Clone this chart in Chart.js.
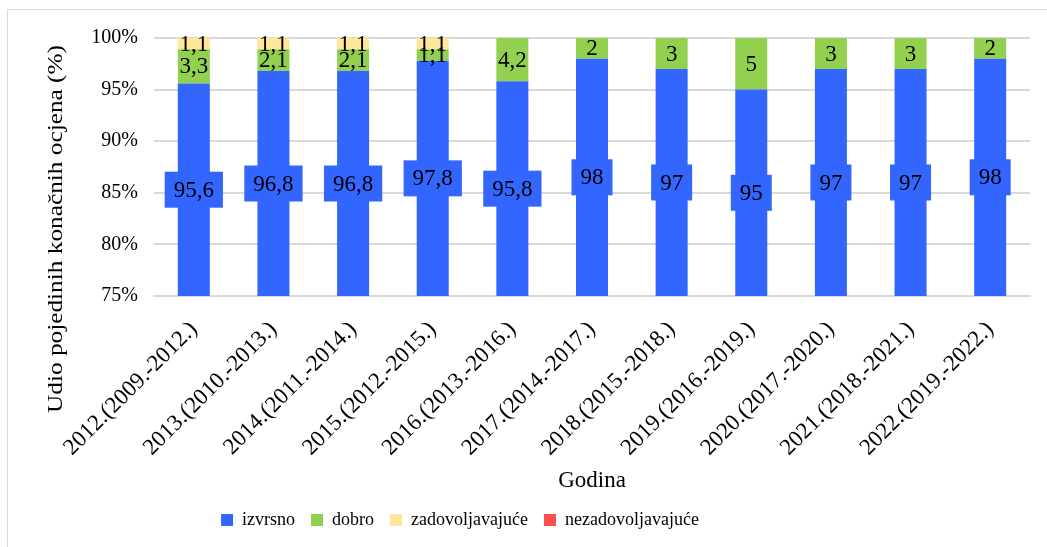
<!DOCTYPE html>
<html>
<head>
<meta charset="utf-8">
<script src="https://cdn.jsdelivr.net/npm/chart.js@4.4.0/dist/chart.umd.min.js"></script>
<style>
html, body { margin: 0; padding: 0; background: #fff; overflow: hidden; }
#okvir { position: absolute; left: 7px; top: 9px; width: 1100px; height: 600px; border: 1px solid #d9d9d9; }
#myChart { position: absolute; left: 0; top: 0; }
</style>
</head>
<body>
<div id="okvir"></div>
<canvas id="myChart" width="1047" height="547"></canvas>
<script>
// podaci
var godine = ['2012.(2009.-2012.)', '2013.(2010.-2013.)', '2014.(2011.-2014.)', '2015.(2012.-2015.)',
    '2016.(2013.-2016.)', '2017.(2014.-2017.)', '2018.(2015.-2018.)', '2019.(2016.-2019.)',
    '2020.(2017.-2020.)', '2021.(2018.-2021.)', '2022.(2019.-2022.)'];
var izvrsno = [95.6, 96.8, 96.8, 97.8, 95.8, 98, 97, 95, 97, 97, 98];
var dobro = [3.3, 2.1, 2.1, 1.1, 4.2, 2, 3, 5, 3, 3, 2];
var zadovoljavajuce = [1.1, 1.1, 1.1, 1.1, 0, 0, 0, 0, 0, 0, 0];
var nezadovoljavajuce = [0, 0, 0, 0, 0, 0, 0, 0, 0, 0, 0];
var yTicks = [75, 80, 85, 90, 95, 100];
var yNaslov = 'Udio pojedinih konačnih ocjena (%)';

var boje = ['#3366ff', '#92d050', '#ffe699', '#ff5050'];
var serif = '"Liberation Serif", "Times New Roman", serif';

// oznake vrijednosti (nema datalabels plugina)
var labelPlugin = {
    id: 'labelPlugin',
    // legenda je u originalu malo lijevo od sredine
    afterLayout: function(chart) {
        chart.legend.left -= 55;
        chart.legend.right -= 55;
    },
    afterDatasetsDraw: function(chart) {
        var ctx = chart.ctx;
        var area = chart.chartArea;
        ctx.save();
        ctx.textAlign = 'center';
        ctx.textBaseline = 'middle';
        ctx.font = '23px ' + serif;
        chart.data.datasets.forEach(function(ds, i) {
            var meta = chart.getDatasetMeta(i);
            meta.data.forEach(function(bar, j) {
                var v = ds.data[j];
                if (!v) return;
                var top = Math.max(Math.min(bar.y, bar.base), area.top);
                var bottom = Math.min(Math.max(bar.y, bar.base), area.bottom);
                var cy = (top + bottom) / 2;
                var txt = String(v).replace('.', ',');
                if (i === 0) {
                    var w = ctx.measureText(txt).width + 18;
                    var h = 36;
                    ctx.fillStyle = boje[0];
                    ctx.fillRect(bar.x - w / 2, cy - h / 2, w, h);
                }
                ctx.fillStyle = '#000';
                ctx.fillText(txt, bar.x, cy + 1);
            });
        });
        ctx.restore();
    },
    // naslov y osi - razvučen kao u originalu
    afterDraw: function(chart) {
        var ctx = chart.ctx;
        var area = chart.chartArea;
        ctx.save();
        ctx.font = '22px ' + serif;
        ctx.fillStyle = '#000';
        ctx.textAlign = 'center';
        ctx.textBaseline = 'middle';
        var sx = 368 / ctx.measureText(yNaslov).width;
        ctx.translate(area.left - 98, area.top + 191);
        ctx.rotate(-Math.PI / 2);
        ctx.scale(sx, 1);
        ctx.fillText(yNaslov, 0, 0);
        ctx.restore();
    }
};

var ctx = document.getElementById('myChart').getContext('2d');
var myChart = new Chart(ctx, {
    type: 'bar',
    data: {
        labels: godine,
        datasets: [
            { label: 'izvrsno', data: izvrsno, backgroundColor: boje[0] },
            { label: 'dobro', data: dobro, backgroundColor: boje[1] },
            { label: 'zadovoljavajuće', data: zadovoljavajuce, backgroundColor: boje[2] },
            { label: 'nezadovoljavajuće', data: nezadovoljavajuce, backgroundColor: boje[3] }
        ]
    },
    options: {
        responsive: false,
        animation: false,
        devicePixelRatio: 1,
        layout: { padding: { left: 0, right: 17, top: 38, bottom: 8 } },
        datasets: { bar: { barPercentage: 0.402, categoryPercentage: 1 } },
        scales: {
            x: {
                stacked: true,
                afterFit: function(axis) { axis.height = 199; },
                grid: { display: false },
                border: { color: '#d9d9d9', width: 2 },
                ticks: { color: '#000', font: { family: serif, size: 23 }, minRotation: 45, maxRotation: 45, padding: 12 },
                title: { display: true, text: 'Godina', color: '#000', font: { family: serif, size: 23 }, padding: { top: 0, bottom: 0 } }
            },
            y: {
                stacked: true,
                min: 75,
                max: 100,
                afterFit: function(axis) { axis.width = 154; },
                afterBuildTicks: function(axis) {
                    axis.ticks = yTicks.map(function(v) { return { value: v }; });
                },
                grid: { color: '#d9d9d9', lineWidth: 2, drawTicks: false },
                border: { display: false },
                ticks: {
                    color: '#000', padding: 16,
                    font: { family: serif, size: 20 },
                    callback: function(v) { return v + '%'; }
                }
            }
        },
        plugins: {
            legend: {
                position: 'bottom',
                labels: { color: '#000', boxWidth: 12, boxHeight: 12, padding: 16, font: { family: serif, size: 18 } }
            },
            tooltip: { enabled: false }
        }
    },
    plugins: [labelPlugin]
});
</script>
</body>
</html>
